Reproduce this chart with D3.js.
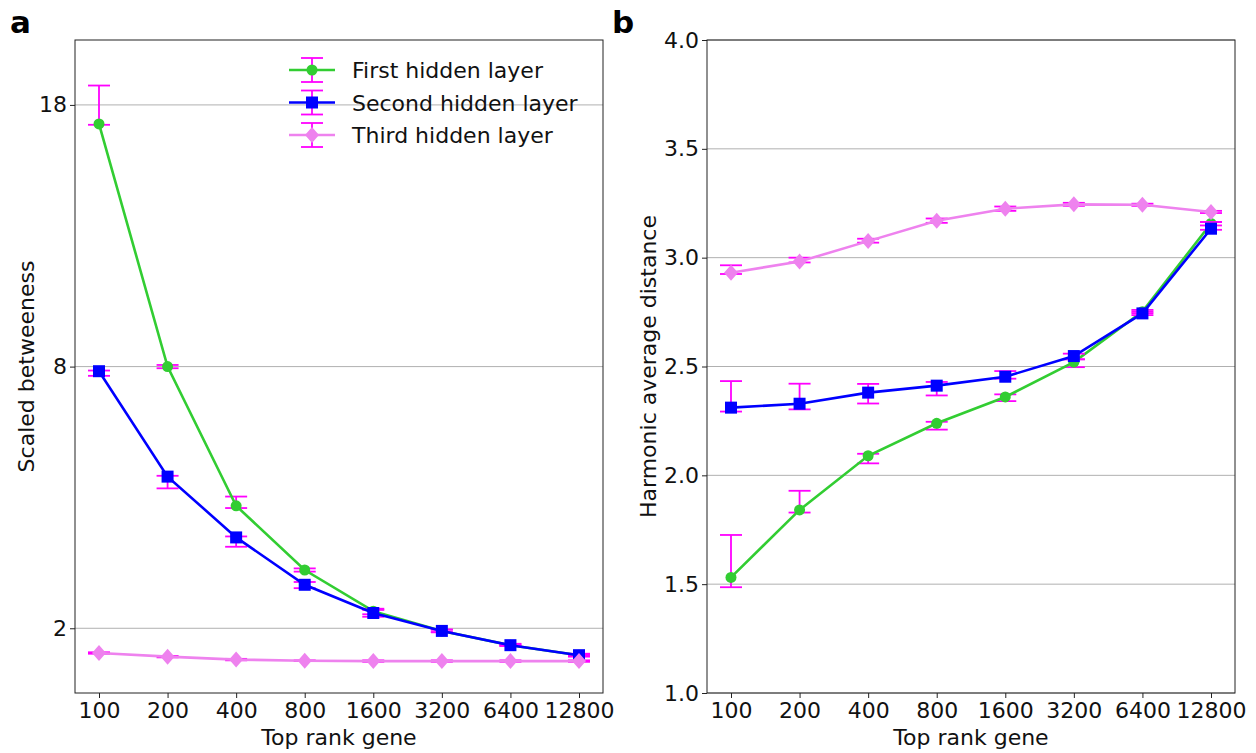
<!DOCTYPE html>
<html>
<head>
<meta charset="utf-8">
<script src="https://cdn.jsdelivr.net/npm/d3@7"></script>
<style>
  body { margin: 0; background: #fff; }
  svg { font-family: 'DejaVu Sans', sans-serif; }
</style>
</head>
<body>
<div id="chart"></div>
<script>
// x categories
const genes = ['100', '200', '400', '800', '1600', '3200', '6400', '12800'];
const seriesNames = ['First hidden layer', 'Second hidden layer', 'Third hidden layer'];

// panel a: scaled betweeness (value, lower, upper)
const betFirst = [17.14, 8.0, 4.31, 2.99, 2.27, 1.96, 1.75, 1.61];
const betFirstLo = [17.1, 7.95, 4.26, 2.96, 2.22, 1.94, 1.74, 1.60];
const betFirstHi = [18.9, 8.05, 4.52, 3.02, 2.31, 1.98, 1.76, 1.62];
const betSecond = [7.86, 4.99, 3.63, 2.72, 2.24, 1.96, 1.75, 1.61];
const betSecondLo = [7.72, 4.71, 3.44, 2.66, 2.18, 1.94, 1.74, 1.59];
const betSecondHi = [7.88, 5.01, 3.65, 2.77, 2.29, 1.98, 1.77, 1.63];
const betThird = [1.64, 1.59, 1.55, 1.535, 1.53, 1.53, 1.53, 1.53];
const betThirdLo = [1.63, 1.58, 1.54, 1.53, 1.52, 1.52, 1.52, 1.52];
const betThirdHi = [1.65, 1.60, 1.56, 1.54, 1.54, 1.54, 1.54, 1.54];
const betTicks = [2, 8, 18];

// panel b: harmonic average distance (value, lower, upper)
const hadFirst = [1.531, 1.841, 2.090, 2.239, 2.360, 2.520, 2.752, 3.157];
const hadFirstLo = [1.486, 1.829, 2.055, 2.21, 2.341, 2.497, 2.745, 3.148];
const hadFirstHi = [1.726, 1.929, 2.099, 2.246, 2.372, 2.533, 2.76, 3.164];
const hadSecond = [2.311, 2.329, 2.380, 2.412, 2.453, 2.548, 2.744, 3.133];
const hadSecondLo = [2.293, 2.303, 2.33, 2.367, 2.444, 2.533, 2.736, 3.128];
const hadSecondHi = [2.433, 2.421, 2.42, 2.429, 2.479, 2.559, 2.752, 3.164];
const hadThird = [2.931, 2.982, 3.076, 3.170, 3.225, 3.245, 3.243, 3.210];
const hadThirdLo = [2.925, 2.978, 3.069, 3.16, 3.215, 3.238, 3.238, 3.205];
const hadThirdHi = [2.965, 3.0, 3.087, 3.18, 3.235, 3.252, 3.248, 3.215];
const hadTicks = [1.0, 1.5, 2.0, 2.5, 3.0, 3.5, 4.0];

const colors = ['#32cd32', '#0000ff', '#ee82ee'];
const errColor = '#ff00ff';
const fontSize = 22;

const width = 1256;
const height = 753;
const plotTop = 40;
const plotBottom = 693;

const svg = d3.select('#chart')
  .append('svg')
  .attr('width', width)
  .attr('height', height);

svg.append('rect').attr('width', width).attr('height', height).attr('fill', '#fff');

function markerPath(k) {
  if (k === 0) return d3.symbol(d3.symbolCircle, 95)();
  if (k === 1) return 'M-6,-6H6V6H-6Z';
  return 'M0,-8L7,0L0,8L-7,0Z';
}

function drawPanel(opts) {
  const x = d3.scaleLinear().domain([-0.35, 7.35]).range([opts.left, opts.right]);
  const y = opts.y;
  const g = svg.append('g');

  // grid
  g.selectAll('.grid')
    .data(opts.ticks)
    .enter().append('line')
    .attr('x1', opts.left).attr('x2', opts.right)
    .attr('y1', d => y(d)).attr('y2', d => y(d))
    .attr('stroke', '#b0b0b0')
    .attr('stroke-width', 1);

  // series
  opts.series.forEach((s, k) => {
    const sg = g.append('g');
    // error bars
    s.val.forEach((v, i) => {
      const cx = x(i);
      sg.append('line')
        .attr('x1', cx).attr('x2', cx)
        .attr('y1', y(s.lo[i])).attr('y2', y(s.hi[i]))
        .attr('stroke', errColor).attr('stroke-width', 1.8);
      [s.lo[i], s.hi[i]].forEach(e => {
        sg.append('line')
          .attr('x1', cx - 11).attr('x2', cx + 11)
          .attr('y1', y(e)).attr('y2', y(e))
          .attr('stroke', errColor).attr('stroke-width', 1.8);
      });
    });
    const line = d3.line().x((d, i) => x(i)).y(d => y(d));
    sg.append('path')
      .datum(s.val)
      .attr('d', line)
      .attr('fill', 'none')
      .attr('stroke', colors[k])
      .attr('stroke-width', 2.6);
    sg.selectAll('.mk')
      .data(s.val)
      .enter().append('path')
      .attr('transform', (d, i) => `translate(${x(i)},${y(d)})`)
      .attr('d', markerPath(k))
      .attr('fill', colors[k]);
  });

  // frame
  g.append('rect')
    .attr('x', opts.left).attr('y', plotTop)
    .attr('width', opts.right - opts.left).attr('height', plotBottom - plotTop)
    .attr('fill', 'none').attr('stroke', '#222').attr('stroke-width', 1);

  // axes
  const xAxis = g.append('g')
    .attr('transform', `translate(0,${plotBottom})`)
    .call(d3.axisBottom(x).tickValues(d3.range(genes.length)).tickFormat(i => genes[i]).tickSize(5).tickPadding(4));
  const yAxis = g.append('g')
    .attr('transform', `translate(${opts.left},0)`)
    .call(d3.axisLeft(y).tickValues(opts.ticks).tickFormat(opts.fmt).tickSize(5).tickPadding(3));
  [xAxis, yAxis].forEach(a => {
    a.select('.domain').remove();
    a.selectAll('.tick line').attr('stroke', '#222');
    a.selectAll('.tick text').attr('font-size', fontSize).attr('fill', '#111')
      .attr('font-family', 'DejaVu Sans, sans-serif');
  });

  // labels
  g.append('text')
    .attr('x', (opts.left + opts.right) / 2).attr('y', 745)
    .attr('text-anchor', 'middle').attr('font-size', fontSize).attr('fill', '#111')
    .text('Top rank gene');
  g.append('text')
    .attr('transform', `translate(${opts.ylabelX},${(plotTop + plotBottom) / 2}) rotate(-90)`)
    .attr('text-anchor', 'middle').attr('font-size', fontSize).attr('fill', '#111')
    .text(opts.ylabel);
  g.append('text')
    .attr('x', opts.tagX).attr('y', 33)
    .attr('font-size', 31).attr('font-weight', 'bold').attr('fill', '#000')
    .text(opts.tag);
  return g;
}

const yLeft = d3.scaleSqrt().domain([1.133, 21.1]).range([plotBottom, plotTop]);
const yRight = d3.scaleLinear().domain([1, 4]).range([plotBottom, plotTop]);

const panelA = drawPanel({
  left: 75, right: 603, y: yLeft, ticks: betTicks, fmt: d3.format('d'),
  ylabel: 'Scaled betweeness', ylabelX: 34, tag: 'a', tagX: 10,
  series: [
    { val: betFirst, lo: betFirstLo, hi: betFirstHi },
    { val: betSecond, lo: betSecondLo, hi: betSecondHi },
    { val: betThird, lo: betThirdLo, hi: betThirdHi },
  ],
});

drawPanel({
  left: 707, right: 1235, y: yRight, ticks: hadTicks, fmt: d3.format('.1f'),
  ylabel: 'Harmonic average distance', ylabelX: 656, tag: 'b', tagX: 612,
  series: [
    { val: hadFirst, lo: hadFirstLo, hi: hadFirstHi },
    { val: hadSecond, lo: hadSecondLo, hi: hadSecondHi },
    { val: hadThird, lo: hadThirdLo, hi: hadThirdHi },
  ],
});

// legend in panel a
const legend = panelA.append('g').attr('transform', 'translate(312,70)');
seriesNames.forEach((name, k) => {
  const row = legend.append('g').attr('transform', `translate(0,${k * 32.5})`);
  row.append('line').attr('x1', 0).attr('x2', 0).attr('y1', -12).attr('y2', 12)
    .attr('stroke', errColor).attr('stroke-width', 1.8);
  [-12, 12].forEach(e => row.append('line')
    .attr('x1', -11).attr('x2', 11).attr('y1', e).attr('y2', e)
    .attr('stroke', errColor).attr('stroke-width', 1.8));
  row.append('line').attr('x1', -23).attr('x2', 23)
    .attr('stroke', colors[k]).attr('stroke-width', 2.6);
  row.append('path').attr('d', markerPath(k)).attr('fill', colors[k]);
  row.append('text').attr('x', 40).attr('y', 8)
    .attr('font-size', fontSize).attr('fill', '#111').text(name);
});
</script>
</body>
</html>
